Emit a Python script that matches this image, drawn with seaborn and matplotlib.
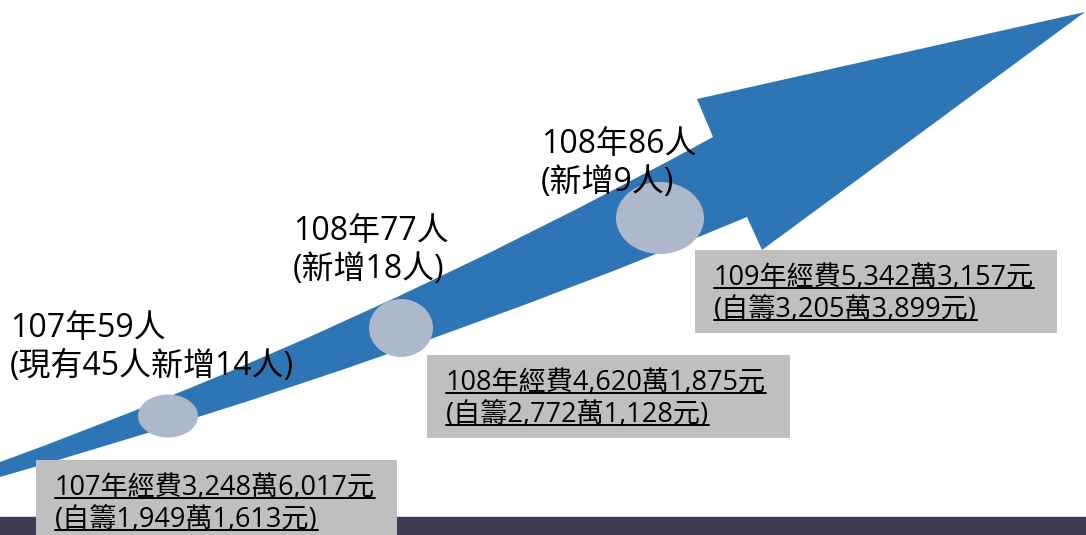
import matplotlib
matplotlib.use("Agg")
import matplotlib.pyplot as plt
import seaborn as sns
from matplotlib.path import Path
from matplotlib.patches import PathPatch, Ellipse, Rectangle

sns.set_theme(style="white")
plt.rcParams['font.family'] = ['Open Sans', 'Noto Sans CJK TC', 'DejaVu Sans']

# data
people_labels = ["107年59人\n(現有45人新增14人)", "108年77人\n(新增18人)", "108年86人\n(新增9人)"]
budget_line1 = ["107年經費3,248萬6,017元", "108年經費4,620萬1,875元", "109年經費5,342萬3,157元"]
budget_line2 = ["(自籌1,949萬1,613元)", "(自籌2,772萬1,128元)", "(自籌3,205萬3,899元)"]

# layout (pixel coords, y downwards)
dot_xy = [(168, 416), (401, 328), (660, 218)]
dot_wh = [(60, 43), (64, 58), (88, 72)]
people_xy = [(10, 337), (293, 240), (541, 153)]
box_xy = [(36, 460, 361, 80), (427, 355, 363, 83), (695, 250, 362, 83)]

arrow_blue = "#2E75B6"
dot_col = "#ADB9CA"
box_col = "#BFBFBF"

fig = plt.figure(figsize=(10.86, 5.35), dpi=100)
ax = fig.add_axes([0, 0, 1, 1])
ax.set_xlim(0, 1086)
ax.set_ylim(535, 0)
ax.axis("off")

# bottom band
ax.add_patch(Rectangle((0, 517), 1086, 20, color="#3F3B50", zorder=1))

# curved arrow
verts = [(0, 462), (350, 335), (713, 137),
         (697, 99), (1085, 12), (762, 250), (747, 217),
         (400, 362), (0, 477), (0, 462)]
codes = [Path.MOVETO, Path.CURVE3, Path.CURVE3,
         Path.LINETO, Path.LINETO, Path.LINETO, Path.LINETO,
         Path.CURVE3, Path.CURVE3, Path.CLOSEPOLY]
ax.add_patch(PathPatch(Path(verts, codes), facecolor=arrow_blue, edgecolor="none", zorder=2))

for (x, y), (w, h) in zip(dot_xy, dot_wh):
    ax.add_patch(Ellipse((x, y), w, h, facecolor=dot_col, edgecolor="none", zorder=3))

for (x, y), lab in zip(people_xy, people_labels):
    l1, l2 = lab.split("\n")
    ax.text(x, y, l1, fontsize=23, va="baseline", ha="left", color="black", zorder=5)
    ax.text(x, y + 38, l2, fontsize=23, va="baseline", ha="left", color="black", zorder=5)

texts = []
for (x, y, w, h), l1, l2 in zip(box_xy, budget_line1, budget_line2):
    ax.add_patch(Rectangle((x, y), w, h, facecolor=box_col, edgecolor="none", zorder=4))
    t1 = ax.text(x + 19, y + 35, l1, fontsize=19.5, va="baseline", ha="left", color="black", zorder=5)
    t2 = ax.text(x + 19, y + 67, l2, fontsize=19.5, va="baseline", ha="left", color="black", zorder=5)
    texts += [t1, t2]

# underline the budget text
fig.canvas.draw()
r = fig.canvas.get_renderer()
inv = ax.transData.inverted()
for t in texts:
    bb = t.get_window_extent(r)
    x0, _ = inv.transform((bb.x0, bb.y0))
    x1, _ = inv.transform((bb.x1, bb.y0))
    _, yb = t.get_position()
    ax.plot([x0, x1], [yb + 3, yb + 3], color="black", lw=1.4, zorder=6)

fig.savefig("out.png", dpi=100)
